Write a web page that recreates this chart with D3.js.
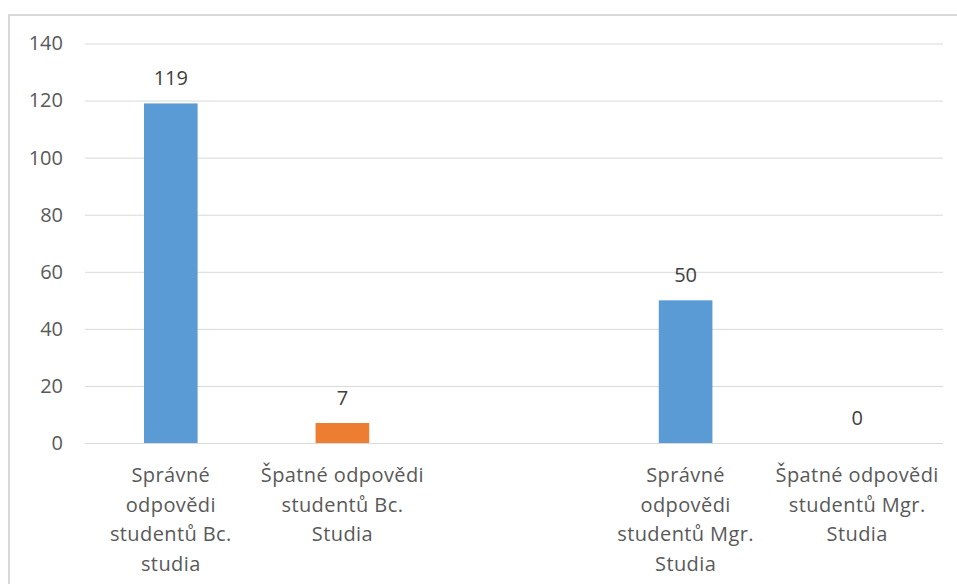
<!DOCTYPE html>
<html>
<head>
<meta charset="utf-8">
<script src="https://cdn.jsdelivr.net/npm/d3@7/dist/d3.min.js"></script>
<style>
  html, body { margin: 0; padding: 0; background: #fff; }
  svg { display: block; font-family: "Open Sans", "Noto Sans", sans-serif; }
</style>
</head>
<body>
<svg id="chart" width="957" height="584"></svg>
<script>
// Category labels, one array of wrapped lines per bar (empty array leaves an empty slot)
const categories = [
  ["Správné", "odpovědi", "studentů Bc.", "studia"],
  ["Špatné odpovědi", "studentů Bc.", "Studia"],
  [],
  ["Správné", "odpovědi", "studentů Mgr.", "Studia"],
  ["Špatné odpovědi", "studentů Mgr.", "Studia"]
];
const categoryKeys = ["bc_ok", "bc_bad", "gap", "mgr_ok", "mgr_bad"];
const values = [119, 7, null, 50, 0];
const seriesKind = ["ok", "bad", null, "ok", "bad"];
const yTicks = [0, 20, 40, 60, 80, 100, 120, 140];

const colors = { ok: "#5b9bd5", bad: "#ed7d31" };
const textColor = "#595959";
const gridColor = "#d9d9d9";
const fontSize = "20px";

const svg = d3.select("#chart");

// Chart frame
svg.append("rect")
  .attr("x", 9).attr("y", 15)
  .attr("width", 957).attr("height", 600)
  .attr("fill", "none")
  .attr("stroke", "#d9d9d9")
  .attr("stroke-width", 2);

const plotLeft = 85, plotRight = 943, plotTop = 43.5, plotBottom = 443;

const x = d3.scaleBand()
  .domain(categoryKeys)
  .range([plotLeft, plotRight])
  .paddingInner(0.6875)
  .paddingOuter(0.34375);

const y = d3.scaleLinear()
  .domain([0, 140])
  .range([plotBottom, plotTop]);

// Horizontal gridlines and value axis labels
const yAxis = svg.append("g")
  .attr("transform", `translate(${plotLeft},0)`)
  .call(d3.axisLeft(y)
    .tickValues(yTicks)
    .tickSize(-(plotRight - plotLeft))
    .tickPadding(22)
    .tickFormat(d3.format("d")));
yAxis.select(".domain").remove();
yAxis.selectAll(".tick line")
  .attr("stroke", gridColor)
  .attr("stroke-width", 1);
yAxis.selectAll(".tick text")
  .attr("fill", textColor)
  .style("font-size", fontSize)
  .style("font-family", "'Open Sans', sans-serif");

// Bars
const rows = categoryKeys.map((k, i) => ({ key: k, value: values[i], kind: seriesKind[i], lines: categories[i] }));
const barRows = rows.filter(d => d.value !== null);

svg.append("g").selectAll("rect")
  .data(barRows)
  .join("rect")
  .attr("x", d => x(d.key))
  .attr("width", x.bandwidth())
  .attr("y", d => y(d.value))
  .attr("height", d => y(0) - y(d.value))
  .attr("fill", d => colors[d.kind]);

// Value labels above bars
svg.append("g").selectAll("text")
  .data(barRows)
  .join("text")
  .attr("x", d => x(d.key) + x.bandwidth() / 2)
  .attr("y", d => y(d.value) - 18)
  .attr("text-anchor", "middle")
  .attr("fill", "#404040")
  .style("font-size", fontSize)
  .text(d => d.value);

// Category labels below the axis
const xAxis = svg.append("g")
  .attr("transform", `translate(0,${plotBottom})`)
  .call(d3.axisBottom(x).tickSize(0).tickFormat(""));
xAxis.select(".domain").remove();
xAxis.selectAll(".tick").each(function (k) {
  const row = rows.find(r => r.key === k);
  const t = d3.select(this).select("text")
    .attr("y", 0)
    .attr("dy", null)
    .attr("fill", textColor)
    .attr("text-anchor", "middle")
    .style("font-size", fontSize)
    .style("letter-spacing", "0.4px")
    .style("font-family", "'Open Sans', sans-serif");
  t.selectAll("tspan")
    .data(row.lines)
    .join("tspan")
    .attr("x", 0)
    .attr("y", (d, i) => 39 + i * 29.5)
    .text(d => d);
});
</script>
</body>
</html>
